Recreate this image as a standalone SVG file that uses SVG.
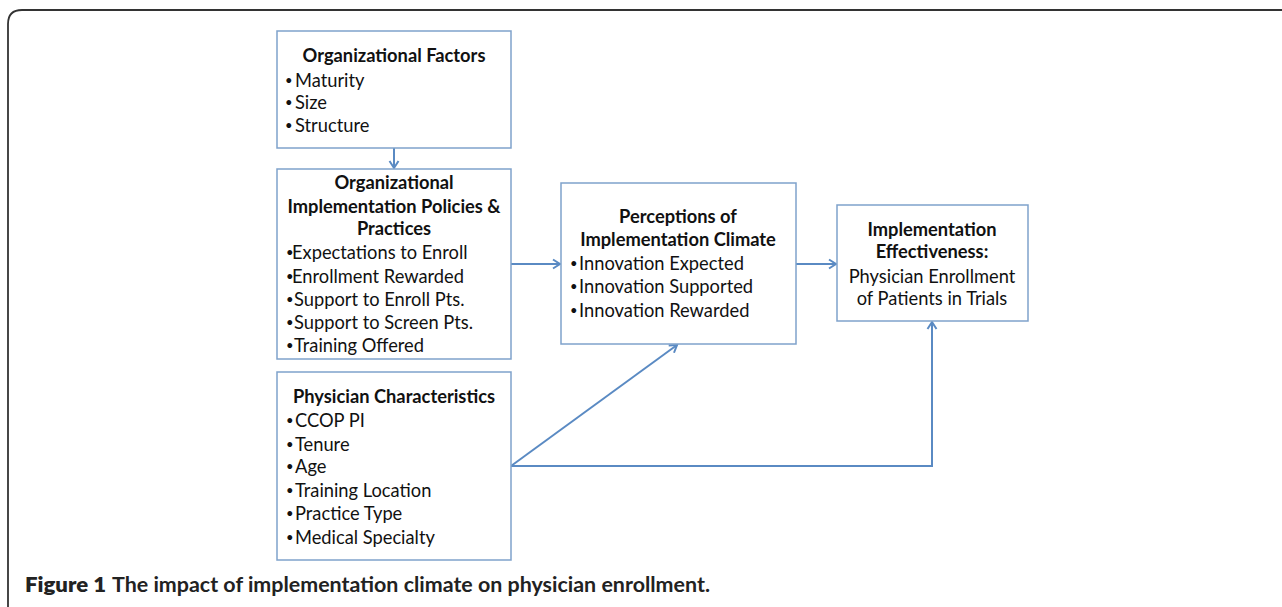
<svg xmlns="http://www.w3.org/2000/svg" width="1282" height="607" viewBox="0 0 1282 607">
<style>
.box{fill:#fff;stroke:#7fa2cb;stroke-width:1.5}
.t{font-family:Lato,"Open Sans","Liberation Sans",sans-serif;font-size:18.3px;fill:#111}
.b{font-weight:700}
.c{text-anchor:middle}
.d{font-size:13px}
.con{fill:none;stroke:#5a8ac3;stroke-width:2}
.cap{font-family:Lato,"Liberation Sans",sans-serif;font-size:20px;fill:#222}
</style>
<defs>
<marker id="arr" markerUnits="userSpaceOnUse" markerWidth="12" markerHeight="12" refX="9" refY="6" orient="auto">
<path d="M2,1.5 L9,6 L2,10.5" fill="none" stroke="#5a8ac3" stroke-width="2"/>
</marker>
</defs>
<rect width="1282" height="607" fill="#fff"/>
<path d="M8,607 L8,24 Q8,10 22,10 L1282,10" fill="none" stroke="#333" stroke-width="1.8"/>

<g id="connectors">
<line class="con" x1="394" y1="148" x2="394" y2="168" marker-end="url(#arr)"/>
<line class="con" x1="511" y1="264" x2="560" y2="264" marker-end="url(#arr)"/>
<line class="con" x1="796" y1="264" x2="836" y2="264" marker-end="url(#arr)"/>
<line class="con" x1="511" y1="466" x2="677" y2="345" marker-end="url(#arr)"/>
<polyline class="con" points="511,466 932,466 932,322" marker-end="url(#arr)"/>
</g>

<g id="org-factors">
<rect class="box" x="277" y="31" width="234" height="117"/>
<text class="t b c" x="394" y="62">Organizational Factors</text>
<text class="t"><tspan class="d" x="285" y="85">•</tspan><tspan x="295" y="87">Maturity</tspan></text>
<text class="t"><tspan class="d" x="285" y="107">•</tspan><tspan x="295" y="109">Size</tspan></text>
<text class="t"><tspan class="d" x="285" y="130">•</tspan><tspan x="295" y="132">Structure</tspan></text>
</g>

<g id="org-policies">
<rect class="box" x="277" y="169" width="234" height="190"/>
<text class="t b c" x="394" y="189">Organizational</text>
<text class="t b c" x="394" y="213">Implementation Policies &amp;</text>
<text class="t b c" x="394" y="235">Practices</text>
<text class="t"><tspan class="d" x="286" y="257">•</tspan><tspan x="292" y="259">Expectations to Enroll</tspan></text>
<text class="t"><tspan class="d" x="286" y="281">•</tspan><tspan x="292" y="283">Enrollment Rewarded</tspan></text>
<text class="t"><tspan class="d" x="286" y="304">•</tspan><tspan x="294" y="306">Support to Enroll Pts.</tspan></text>
<text class="t"><tspan class="d" x="286" y="327">•</tspan><tspan x="294" y="329">Support to Screen Pts.</tspan></text>
<text class="t"><tspan class="d" x="286" y="350">•</tspan><tspan x="294" y="352">Training Offered</tspan></text>
</g>

<g id="physician">
<rect class="box" x="277" y="372" width="234" height="188"/>
<text class="t b c" x="394" y="403">Physician Characteristics</text>
<text class="t"><tspan class="d" x="286" y="425">•</tspan><tspan x="295" y="427">CCOP PI</tspan></text>
<text class="t"><tspan class="d" x="286" y="449">•</tspan><tspan x="295" y="451">Tenure</tspan></text>
<text class="t"><tspan class="d" x="286" y="471">•</tspan><tspan x="295" y="473">Age</tspan></text>
<text class="t"><tspan class="d" x="286" y="495">•</tspan><tspan x="295" y="497">Training Location</tspan></text>
<text class="t"><tspan class="d" x="286" y="518">•</tspan><tspan x="295" y="520">Practice Type</tspan></text>
<text class="t"><tspan class="d" x="286" y="542">•</tspan><tspan x="295" y="544">Medical Specialty</tspan></text>
</g>

<g id="climate">
<rect class="box" x="561" y="183" width="235" height="161"/>
<text class="t b c" x="678" y="223">Perceptions of</text>
<text class="t b c" x="678" y="246">Implementation Climate</text>
<text class="t"><tspan class="d" x="570" y="268">•</tspan><tspan x="579" y="270">Innovation Expected</tspan></text>
<text class="t"><tspan class="d" x="570" y="291">•</tspan><tspan x="579" y="293">Innovation Supported</tspan></text>
<text class="t"><tspan class="d" x="570" y="315">•</tspan><tspan x="579" y="317">Innovation Rewarded</tspan></text>
</g>

<g id="effectiveness">
<rect class="box" x="837" y="205" width="191" height="116"/>
<text class="t b c" x="932" y="236">Implementation</text>
<text class="t b c" x="932" y="258">Effectiveness:</text>
<text class="t c" x="932" y="283">Physician Enrollment</text>
<text class="t c" x="932" y="305">of Patients in Trials</text>
</g>

<text class="cap" x="25" y="592" font-weight="800" textLength="81" lengthAdjust="spacingAndGlyphs">Figure 1</text>
<text class="cap" x="112" y="592" font-weight="700" textLength="598" lengthAdjust="spacingAndGlyphs">The impact of implementation climate on physician enrollment.</text>
</svg>
